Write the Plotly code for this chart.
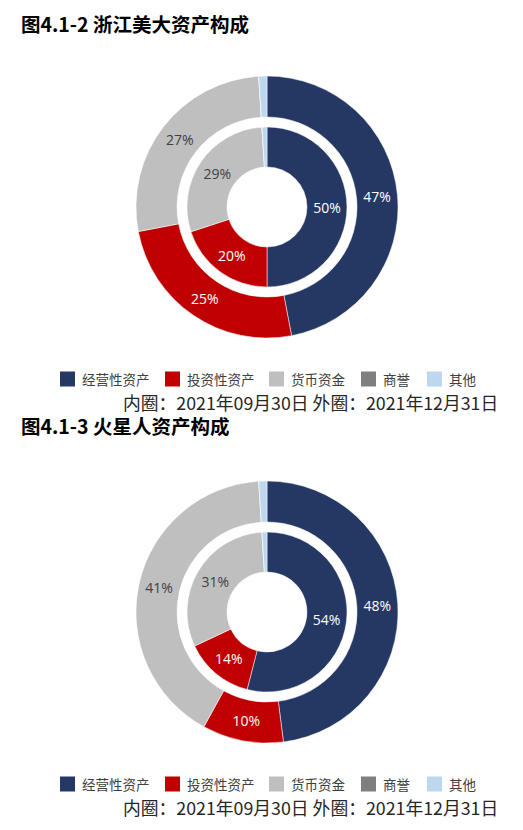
import plotly.graph_objects as go

categories = ["经营性资产", "投资性资产", "货币资金", "商誉", "其他"]
colors = ["#253864", "#C00000", "#BFBFBF", "#7F7F7F", "#BDD7EE"]
text_colors = ["#FFFFFF", "#FFFFFF", "#404040", "#404040", "#404040"]

titles = ["图4.1-2 浙江美大资产构成", "图4.1-3 火星人资产构成"]
caption = "内圈：2021年09月30日 外圈：2021年12月31日"

# 浙江美大
meida_inner = [50, 20, 29, 0, 1]    # 2021-09-30
meida_outer = [47, 25, 27, 0, 1]    # 2021-12-31
# 火星人
huoxing_inner = [54, 14, 31, 0, 1]  # 2021-09-30
huoxing_outer = [48, 10, 41, 0, 1]  # 2021-12-31

# page geometry (the page body adds an 8px margin)
PAD = 8
WIN_W, WIN_H = 523, 830
FW, FH = WIN_W - PAD, WIN_H - PAD
CX = 267
panels = [
    dict(cy=207, title_y=21, legend_y=379, caption_y=402, inner=meida_inner, outer=meida_outer),
    dict(cy=612, title_y=425, legend_y=784, caption_y=807, inner=huoxing_inner, outer=huoxing_outer),
]
R_OUT, R_OUT_HOLE = 131, 90
R_IN, R_IN_HOLE = 80, 40
LEGEND_X = [60, 165, 269, 361, 427]   # left edge of each legend swatch (px)
SW = 15                               # swatch size (px)


def px(x):
    return (x - PAD) / FW


def py(y):
    return 1 - (y - PAD) / FH


def dom(cx, cy, r):
    return dict(x=[px(cx - r), px(cx + r)], y=[py(cy + r), py(cy - r)])


def labels_for(vals):
    return [f"{v}%" if v >= 5 else "" for v in vals]


fig = go.Figure()
annotations = []
shapes = []
for i, p in enumerate(panels):
    for vals, r, hole in [(p["outer"], R_OUT, R_OUT_HOLE / R_OUT), (p["inner"], R_IN, R_IN_HOLE / R_IN)]:
        fig.add_trace(go.Pie(
            labels=categories, values=vals, text=labels_for(vals),
            textinfo="text", textposition="inside", insidetextorientation="horizontal",
            insidetextfont=dict(color=text_colors, size=14, family="Open Sans, Noto Sans CJK SC"),
            marker=dict(colors=colors, line=dict(color="white", width=0.5)),
            hole=hole, sort=False, direction="clockwise", rotation=0,
            domain=dom(CX, p["cy"], r), showlegend=False,
            hoverinfo="label+percent",
        ))
    if i == 0:
        title_pos = dict(y=1, yanchor="top")
    else:
        title_pos = dict(y=py(p["title_y"]), yanchor="middle")
    annotations.append(dict(
        text=f"<b>{titles[i]}</b>", x=px(20), xref="paper", yref="paper",
        xanchor="left", showarrow=False, borderpad=0,
        font=dict(size=19.5, color="#000000", family="Noto Sans CJK SC"), **title_pos,
    ))
    annotations.append(dict(
        text=caption, x=px(499), y=py(p["caption_y"]), xref="paper", yref="paper",
        xanchor="right", yanchor="middle", showarrow=False, borderpad=0,
        font=dict(size=17.8, color="#262626", family="Noto Sans CJK SC"),
    ))
    # legend
    for cat, col, lx in zip(categories, colors, LEGEND_X):
        ly = p["legend_y"]
        shapes.append(dict(
            type="rect", xref="paper", yref="paper",
            x0=px(lx), x1=px(lx + SW), y0=py(ly + SW / 2), y1=py(ly - SW / 2),
            fillcolor=col, line=dict(width=0),
        ))
        annotations.append(dict(
            text=cat, x=px(lx + SW + 6), y=py(ly), xref="paper", yref="paper",
            xanchor="left", yanchor="middle", showarrow=False, borderpad=0,
            font=dict(size=13.5, color="#404040", family="Noto Sans CJK SC"),
        ))

fig.update_layout(
    width=FW, height=FH, margin=dict(l=0, r=0, t=0, b=0),
    paper_bgcolor="white", plot_bgcolor="white",
    showlegend=False,
    annotations=annotations, shapes=shapes,
)
fig.write_html("out.html")
